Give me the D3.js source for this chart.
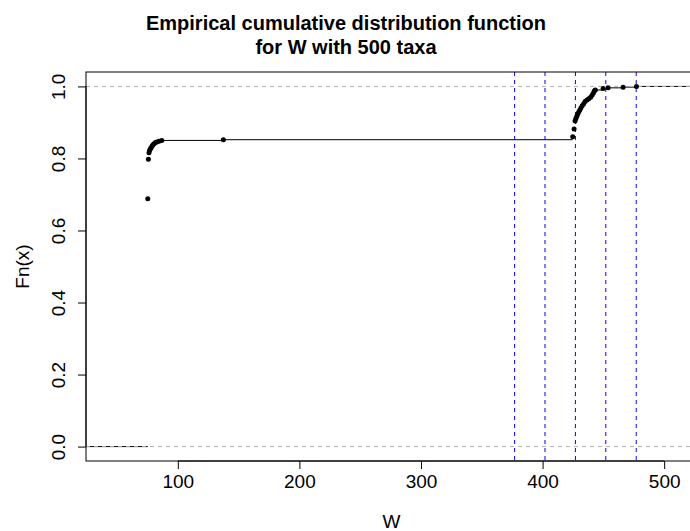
<!DOCTYPE html>
<html>
<head>
<meta charset="utf-8">
<script src="https://cdn.jsdelivr.net/npm/d3@7"></script>
<style>
  body { margin: 0; background: #fff; }
  text { font-family: "Liberation Sans", Arial, sans-serif; }
</style>
</head>
<body>
<div id="chart"></div>
<script>
// ECDF knots (W) and the step height at each knot
var knotsW = [75.3, 75.8, 76.3, 76.8, 77.4, 78.0, 78.8, 79.6, 80.5, 81.5, 82.8, 84.5, 86.8, 137.5,
              424.8, 425.9, 426.7, 427.3, 428.0, 428.8, 429.6, 430.5, 431.5, 432.6, 433.8, 435.0,
              436.5, 438.0, 439.5, 440.8, 441.8, 442.6, 443.4, 449.8, 453.9, 466.2, 477.2];
var fnValues = [0.688, 0.798, 0.816, 0.822, 0.826, 0.830, 0.834, 0.838, 0.841, 0.844, 0.846, 0.848, 0.850, 0.852,
                0.860, 0.882, 0.904, 0.910, 0.916, 0.922, 0.928, 0.934, 0.940, 0.946, 0.952, 0.958,
                0.962, 0.966, 0.970, 0.976, 0.982, 0.988, 0.990, 0.994, 0.996, 0.998, 1.000];
var vLines = [377, 402, 427, 452, 477];
var xTicks = [100, 200, 300, 400, 500];
var yTicks = [0, 0.2, 0.4, 0.6, 0.8, 1.0];
var titleLines = ["Empirical cumulative distribution function", "for W with 500 taxa"];

var W = 690, H = 531;
var mLeft = 86, mRight = 697, mTop = 72, mBottom = 461;

var svg = d3.select("#chart").append("svg")
    .attr("width", W)
    .attr("height", H);

var x = d3.scaleLinear().domain([24.5, 527]).range([mLeft, mRight]);
var y = d3.scaleLinear().domain([-0.04, 1.04]).range([mBottom, mTop]);

var plot = svg.append("g");

// step segments: left tail at 0, one per knot, right tail at 1
var xmin = x.domain()[0], xmax = x.domain()[1];
var segs = [{x0: xmin, x1: knotsW[0], f: 0}];
knotsW.forEach(function(k, i) {
  var next = i < knotsW.length - 1 ? knotsW[i + 1] : xmax;
  segs.push({x0: k, x1: next, f: fnValues[i]});
});

plot.append("g").selectAll("line")
    .data(segs)
    .enter().append("line")
    .attr("x1", function(d) { return x(d.x0); })
    .attr("x2", function(d) { return x(d.x1); })
    .attr("y1", function(d) { return y(d.f); })
    .attr("y2", function(d) { return y(d.f); })
    .attr("stroke", "#000")
    .attr("stroke-width", 1);

// gray dashed references at 0 and 1
plot.append("g").selectAll("line")
    .data([0, 1])
    .enter().append("line")
    .attr("x1", mLeft).attr("x2", mRight)
    .attr("y1", function(d) { return y(d); })
    .attr("y2", function(d) { return y(d); })
    .attr("stroke", "#b3b3b3")
    .attr("stroke-dasharray", "4,4");

// blue dashed verticals
plot.append("g").selectAll("line")
    .data(vLines)
    .enter().append("line")
    .attr("x1", function(d) { return x(d); })
    .attr("x2", function(d) { return x(d); })
    .attr("y1", mTop).attr("y2", mBottom)
    .attr("stroke", "#0000ff")
    .attr("stroke-dasharray", "4,4");

// points
plot.append("g").selectAll("circle")
    .data(knotsW)
    .enter().append("circle")
    .attr("cx", function(d) { return x(d); })
    .attr("cy", function(d, i) { return y(fnValues[i]); })
    .attr("r", 2.5)
    .attr("fill", "#000");

// box
svg.append("rect")
    .attr("x", mLeft).attr("y", mTop)
    .attr("width", mRight - mLeft).attr("height", mBottom - mTop)
    .attr("fill", "none")
    .attr("stroke", "#000");

// axes
var xAxis = svg.append("g")
    .attr("transform", "translate(0," + mBottom + ")")
    .call(d3.axisBottom(x).tickValues(xTicks).tickSize(8).tickPadding(6).tickFormat(d3.format("d")));
xAxis.select(".domain").attr("d", "M" + x(100) + ",0H" + x(500));
xAxis.selectAll("text").attr("font-size", 19).attr("fill", "#000");

var yAxis = svg.append("g")
    .attr("transform", "translate(" + mLeft + ",0)")
    .call(d3.axisLeft(y).tickValues(yTicks).tickSize(8).tickFormat(d3.format(".1f")));
yAxis.select(".domain").attr("d", "M0," + y(0) + "V" + y(1));
yAxis.selectAll(".tick text")
    .attr("x", 0).attr("y", 0).attr("dy", 0)
    .attr("text-anchor", "middle")
    .attr("font-size", 19)
    .attr("fill", "#000")
    .attr("transform", "translate(-21,0) rotate(-90)");

// labels
svg.append("text")
    .attr("x", (mLeft + mRight) / 2).attr("y", 528)
    .attr("text-anchor", "middle")
    .attr("font-size", 19)
    .text("W");

svg.append("text")
    .attr("transform", "translate(29," + (mTop + mBottom) / 2 + ") rotate(-90)")
    .attr("text-anchor", "middle")
    .attr("font-size", 19)
    .text("Fn(x)");

svg.append("g").selectAll("text")
    .data(titleLines)
    .enter().append("text")
    .attr("x", 346)
    .attr("y", function(d, i) { return 30 + i * 24; })
    .attr("text-anchor", "middle")
    .attr("font-size", 20)
    .attr("font-weight", "bold")
    .text(function(d) { return d; });
</script>
</body>
</html>
